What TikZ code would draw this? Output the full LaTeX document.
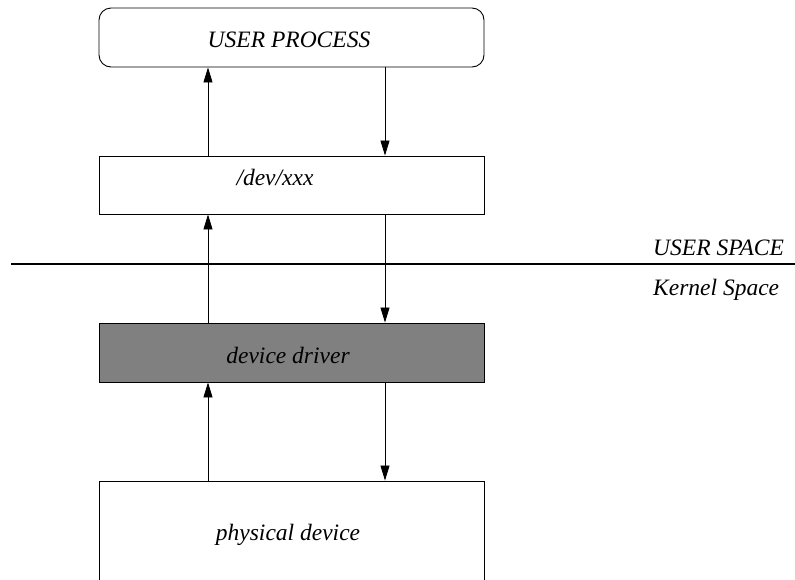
\documentclass[tikz,border=0pt]{standalone}
\usepackage{fontspec}
\setmainfont{Liberation Serif}
\usetikzlibrary{arrows.meta}
\definecolor{drvgray}{gray}{0.5}
\begin{document}
\begin{tikzpicture}[x=1pt,y=-1pt,
  box/.style={draw, line width=0.9pt, minimum width=385pt, inner sep=0pt},
  lbl/.style={anchor=base, inner sep=0pt, font=\fontsize{23.5}{28}\selectfont\itshape},
  flow/.style={line width=0.8pt, -{Triangle[length=15pt,width=9pt]}},
]
\useasboundingbox (0,0) rectangle (795,579);

% the four layers
\node[box, rounded corners=12pt, minimum height=59pt] (proc) at (291.5,37.5) {};
\node[box, minimum height=58pt] (dev) at (291.5,185) {};
\node[box, fill=drvgray, minimum height=59pt] (drv) at (291.5,352.5) {};
\node[box, minimum height=120pt] (phys) at (291.5,541) {};

\node[lbl] (proctext) at (289,47) {USER PROCESS};
\node[lbl] (devtext) at (275,185) {/dev/xxx};
\node[lbl] (drvtext) at (288,363) {device driver};
\node[lbl] (phystext) at (288,540) {physical device};

% columns for the upward and downward flows
\coordinate (upcol) at (208,0);
\coordinate (downcol) at (385,0);

\draw[flow] (dev.north -| upcol) -- (proc.south -| upcol);
\draw[flow] (proc.south -| downcol) -- (dev.north -| downcol);
\draw[flow] (drv.north -| upcol) -- (dev.south -| upcol);
\draw[flow] (dev.south -| downcol) -- (drv.north -| downcol);
\draw[flow] (phys.north -| upcol) -- (drv.south -| upcol);
\draw[flow] (drv.south -| downcol) -- (phys.north -| downcol);

% user / kernel boundary
\coordinate (sepL) at (11,264);
\coordinate (sepR) at (795,264);
\draw[line width=1.8pt] (sepL) -- (sepR);
\node[lbl, anchor=base west] (userspace) at (653,255) {USER SPACE};
\node[lbl, anchor=base west] (kernelspace) at (653,295) {Kernel Space};
\end{tikzpicture}
\end{document}
